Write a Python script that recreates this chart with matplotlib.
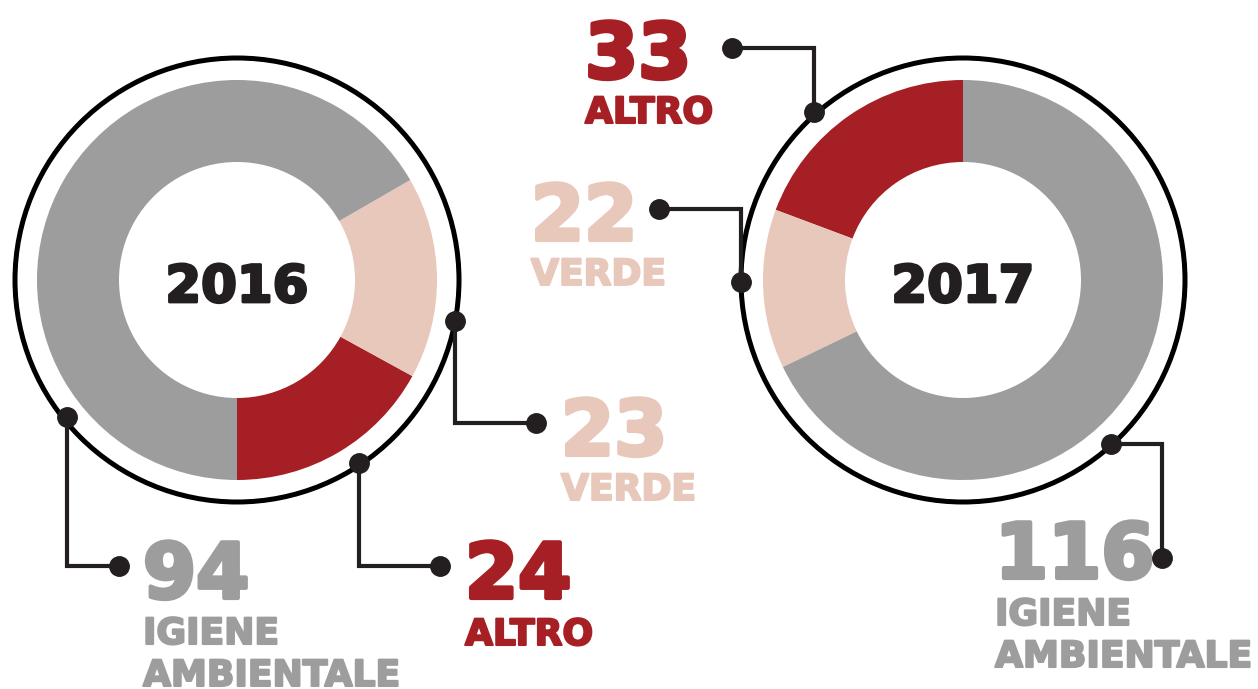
import matplotlib
matplotlib.use('Agg')
import matplotlib.pyplot as plt
import matplotlib.patheffects as pe
from matplotlib.patches import Circle

# dati
YEARS=['2016','2017']
CATEGORIES=['ALTRO','VERDE','IGIENE\nAMBIENTALE']
VALUES_2016=[24,23,94]
VALUES_2017=[33,22,116]
COLORS=['#a51f24','#e8c8bb','#9d9d9d']
DARK='#231f20'

W,H=1258,689
FONT='DejaVu Sans'

def Y(y):
    return H-y

def heavy(color,w):
    # ispessisce il bold per avvicinarsi al carattere "black"
    return [pe.withStroke(linewidth=w,foreground=color)]

def draw_donut(ax,center,values,startangle,label):
    cx,cy=center
    ax.pie(values,colors=COLORS,startangle=startangle,counterclock=True,
           center=(cx,Y(cy)),radius=200,
           wedgeprops={'width':82,'linewidth':0})
    ax.add_patch(Circle((cx,Y(cy)),222,fill=False,lw=3.6,edgecolor='black',zorder=3))
    ax.text(cx,Y(288),label,ha='center',va='center',fontsize=37,
            fontweight='bold',family=FONT,color=DARK,path_effects=heavy(DARK,2))

def leader(ax,pts):
    xs=[p[0] for p in pts]
    ys=[Y(p[1]) for p in pts]
    ax.plot(xs,ys,color=DARK,lw=3,solid_joinstyle='miter',zorder=4)
    ax.plot([xs[0],xs[-1]],[ys[0],ys[-1]],'o',color=DARK,ms=14,zorder=5)

def label(ax,x,y,value,name,color,gap=47):
    ax.text(x,Y(y),str(value),ha='left',va='baseline',fontsize=55,
            fontweight='bold',family=FONT,color=color,path_effects=heavy(color,3))
    for i,line in enumerate(name.split('\n')):
        ax.text(x,Y(y+gap+i*42),line,ha='left',va='baseline',fontsize=26,
                fontweight='bold',family=FONT,color=color,path_effects=heavy(color,1.5))

fig=plt.figure(figsize=(W/100,H/100),dpi=100)
ax=fig.add_axes([0,0,1,1])

draw_donut(ax,(237,280),VALUES_2016,270,YEARS[0])
draw_donut(ax,(963,280),VALUES_2017,90,YEARS[1])

# 2016
leader(ax,[(67,417),(67,566),(119,566)])
leader(ax,[(359,463),(359,566),(440,566)])
leader(ax,[(455,321),(455,423),(536,423)])
label(ax,143,598,VALUES_2016[2],CATEGORIES[2],COLORS[2],gap=46)
label(ax,465,598,VALUES_2016[0],CATEGORIES[0],COLORS[0])
label(ax,561,455,VALUES_2016[1],CATEGORIES[1],COLORS[1],gap=45)

# 2017
leader(ax,[(814,112),(814,48),(732,48)])
leader(ax,[(741,282),(741,209),(659,209)])
leader(ax,[(1111,444),(1162,444),(1162,558)])
label(ax,585,78,VALUES_2017[0],CATEGORIES[0],COLORS[0],gap=45)
label(ax,531,240,VALUES_2017[1],CATEGORIES[1],COLORS[1],gap=45)
label(ax,995,578,VALUES_2017[2],CATEGORIES[2],COLORS[2])

ax.set_xlim(0,W)
ax.set_ylim(0,H)
ax.set_aspect('equal')
ax.axis('off')

fig.savefig('out.png',dpi=100,facecolor='white')
